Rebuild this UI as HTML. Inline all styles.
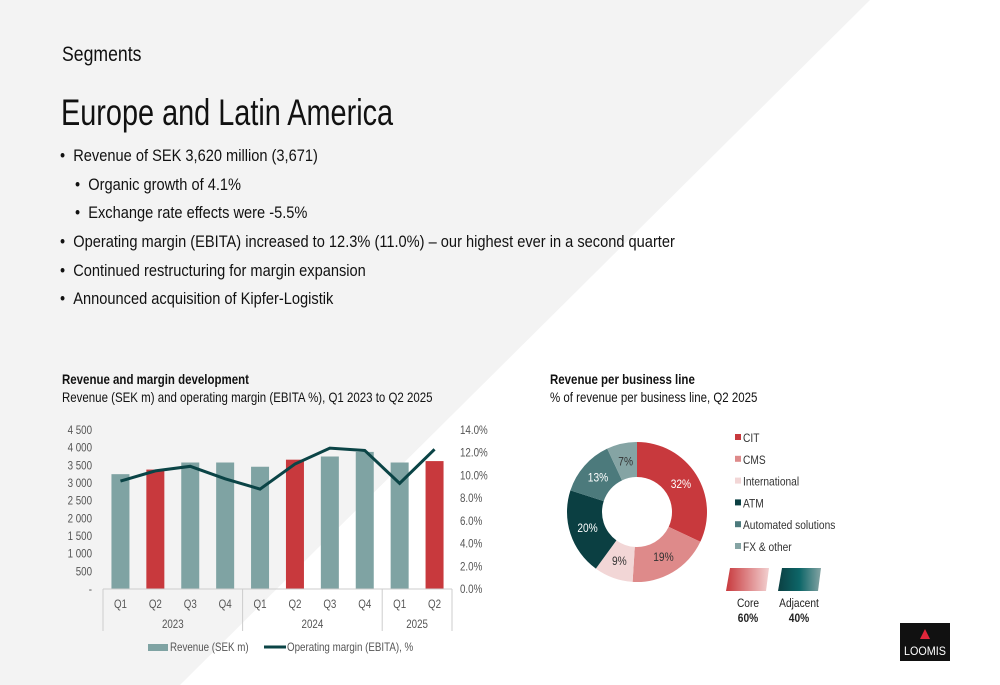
<!DOCTYPE html>
<html><head><meta charset="utf-8">
<style>
body{margin:0;width:1000px;height:685px;overflow:hidden;position:relative;font-family:"Liberation Sans",sans-serif;color:#111;background:#f3f3f3}
.t{position:absolute;white-space:nowrap;transform-origin:0 0;transform:scaleX(0.86)}
.b{font-size:17px}
svg text{font-family:"Liberation Sans",sans-serif}
</style></head><body>
<svg width="1000" height="685" style="position:absolute;left:0;top:0"><polygon points="870,0 1000,0 1000,685 180,685" fill="#ffffff"/></svg>
<div class="t" style="left:62px;top:43px;font-size:21px;transform:scaleX(0.84)">Segments</div>
<div class="t" style="left:61px;top:92px;font-size:37px;transform:scaleX(0.78)">Europe and Latin America</div>
<div class="t b" style="left:60px;top:146px">•&nbsp;&nbsp;Revenue of SEK 3,620 million (3,671)</div>
<div class="t b" style="left:75px;top:175px">•&nbsp;&nbsp;Organic growth of 4.1%</div>
<div class="t b" style="left:75px;top:203px">•&nbsp;&nbsp;Exchange rate effects were -5.5%</div>
<div class="t b" style="left:60px;top:232px">•&nbsp;&nbsp;Operating margin (EBITA) increased to 12.3% (11.0%) – our highest ever in a second quarter</div>
<div class="t b" style="left:60px;top:261px">•&nbsp;&nbsp;Continued restructuring for margin expansion</div>
<div class="t b" style="left:60px;top:289px">•&nbsp;&nbsp;Announced acquisition of Kipfer-Logistik</div>
<div class="t" style="left:62px;top:371px;font-size:14px;font-weight:bold;transform:scaleX(0.82)">Revenue and margin development</div>
<div class="t" style="left:62px;top:389px;font-size:14px;transform:scaleX(0.82)">Revenue (SEK m) and operating margin (EBITA %), Q1 2023 to Q2 2025</div>
<div class="t" style="left:550px;top:371px;font-size:14px;font-weight:bold;transform:scaleX(0.82)">Revenue per business line</div>
<div class="t" style="left:550px;top:389px;font-size:14px;transform:scaleX(0.82)">% of revenue per business line, Q2 2025</div>
<svg id="c1" width="1000" height="685" style="position:absolute;left:0;top:0"></svg>
<svg id="c2" width="1000" height="685" style="position:absolute;left:0;top:0"></svg>
<div style="position:absolute;left:900px;top:623px;width:50px;height:38px;background:#111">
<svg width="50" height="38"><polygon points="25,6 30,16 20,16" fill="#e0263a"/><text x="25" y="32" fill="#fff" font-size="12" text-anchor="middle" font-family="Liberation Serif,serif" textLength="42" lengthAdjust="spacingAndGlyphs">LOOMIS</text></svg></div>
<script>
const quarters=["Q1","Q2","Q3","Q4","Q1","Q2","Q3","Q4","Q1","Q2"];
const years=["2023","2024","2025"];
const yearSpans=[4,4,2];
const revenue=[3250,3380,3580,3580,3460,3660,3750,3880,3580,3620];
const margin=[9.5,10.4,10.8,9.7,8.8,11.0,12.4,12.2,9.3,12.3];
const highlight=[false,true,false,false,false,true,false,false,false,true];
const leftTicks=[0,500,1000,1500,2000,2500,3000,3500,4000,4500];
const leftTickLabels=["-","500","1 000","1 500","2 000","2 500","3 000","3 500","4 000","4 500"];
const rightTicks=[0,2,4,6,8,10,12,14];
const shares=[32,19,9,20,13,7];
const shareLabels=["32%","19%","9%","20%","13%","7%"];
const lines=["CIT","CMS","International","ATM","Automated solutions","FX & other"];
const NS="http://www.w3.org/2000/svg";
const SX=0.85;
function mk(p,t,a){const e=document.createElementNS(NS,t);for(const k in a)e.setAttribute(k,a[k]);p.appendChild(e);return e;}
function txt(p,x,y,s,a){const e=mk(p,'text',Object.assign({x:0,y:0,transform:`translate(${x},${y}) scale(${SX},1)`},a));e.textContent=s;return e;}
const c1=document.getElementById('c1');
const y0=589,yTop=430,xL=103,step=34.9;
const yL=v=>y0-(v/4500)*(y0-yTop);
const yR=v=>y0-(v/14)*(y0-yTop);
const xC=i=>xL+step*(i+0.5);
leftTicks.forEach((v,i)=>{const t=txt(c1,92,yL(v)+4,leftTickLabels[i],{'font-size':11.5,fill:'#555','text-anchor':'end'});

});
rightTicks.forEach(v=>{const t=txt(c1,460,yR(v)+4,v.toFixed(1)+'%',{'font-size':11.5,fill:'#555'});

});
revenue.forEach((v,i)=>{const r=mk(c1,'rect',{x:xC(i)-9,y:yL(v),width:18,height:y0-yL(v),fill:highlight[i]?'#c8393d':'#7fa3a3'});


const t=txt(c1,xC(i),608,quarters[i],{'font-size':11.5,fill:'#555','text-anchor':'middle'});

});
mk(c1,'line',{x1:xL,x2:xL+step*10,y1:y0,y2:y0,stroke:'#ccc'});
let acc=0;
mk(c1,'line',{x1:xL,x2:xL,y1:y0,y2:631,stroke:'#ccc'});
yearSpans.forEach((s,k)=>{const t=txt(c1,xL+step*(acc+s/2),628,years[k],{'font-size':11.5,fill:'#555','text-anchor':'middle'});

acc+=s;
mk(c1,'line',{x1:xL+step*acc,x2:xL+step*acc,y1:y0,y2:631,stroke:'#ccc'});});
const pl=mk(c1,'polyline',{points:margin.map((v,i)=>xC(i)+','+yR(v)).join(' '),fill:'none',stroke:'#0b4446','stroke-width':3});


mk(c1,'rect',{x:148,y:644,width:20,height:7,fill:'#7fa3a3'});
let lt=txt(c1,170,651,'Revenue (SEK m)',{'font-size':11.5,fill:'#555'});


mk(c1,'line',{x1:264,x2:286,y1:647,y2:647,stroke:'#0b4446','stroke-width':3});
lt=txt(c1,287,651,'Operating margin (EBITA), %',{'font-size':11.5,fill:'#555'});


const c2=document.getElementById('c2');
const cx=637,cy=512,R=70,r=35;
const cols=['#c8393d','#de8a8a','#f2d6d6','#0b3f42','#4c7a7c','#85a4a4'];
const tcol=['#fff','#333','#333','#fff','#fff','#333'];
const tot=shares.reduce((a,b)=>a+b,0);
let a0=-Math.PI/2;
const P=(rad,a)=>[cx+rad*Math.cos(a),cy+rad*Math.sin(a)];
shares.forEach((v,i)=>{const a1=a0+v/tot*2*Math.PI;const lg=(a1-a0)>Math.PI?1:0;
const [x1,y1]=P(R,a0),[x2,y2]=P(R,a1),[x3,y3]=P(r,a1),[x4,y4]=P(r,a0);
const p=mk(c2,'path',{d:`M${x1},${y1}A${R},${R} 0 ${lg} 1 ${x2},${y2}L${x3},${y3}A${r},${r} 0 ${lg} 0 ${x4},${y4}Z`,fill:cols[i]});


const am=(a0+a1)/2;const [lx,ly]=P(52,am);
const t=txt(c2,lx,ly+4,shareLabels[i],{'font-size':12,fill:tcol[i],'text-anchor':'middle'});


a0=a1;
mk(c2,'rect',{x:735,y:434+i*21.8,width:6,height:6,fill:cols[i]});
const l=txt(c2,743,442+i*21.8,lines[i],{'font-size':12,fill:'#333'});

});
const defs=mk(c2,'defs',{});
const g1=mk(defs,'linearGradient',{id:'gc'});mk(g1,'stop',{offset:0,'stop-color':'#c8393d'});mk(g1,'stop',{offset:1,'stop-color':'#f2d0d0'});
const g2=mk(defs,'linearGradient',{id:'ga'});mk(g2,'stop',{offset:0,'stop-color':'#0b3f42'});mk(g2,'stop',{offset:0.5,'stop-color':'#0d6668'});mk(g2,'stop',{offset:1,'stop-color':'#85a4a4'});
mk(c2,'polygon',{points:'730,568 769,568 766,591 726,591',fill:'url(#gc)'});
mk(c2,'polygon',{points:'782,568 821,568 818,591 778,591',fill:'url(#ga)'});
[['Core',748,607,'normal'],['60%',748,622,'bold'],['Adjacent',799,607,'normal'],['40%',799,622,'bold']].forEach(d=>{const t=txt(c2,d[1],d[2],d[0],{'font-size':12,fill:'#222','text-anchor':'middle','font-weight':d[3]});

});
</script>
</body></html>
